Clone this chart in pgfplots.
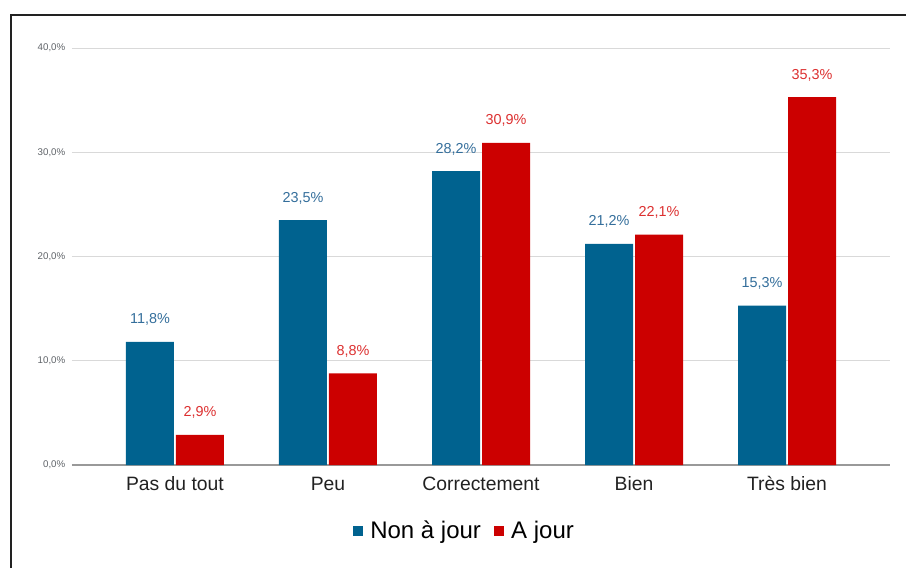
\documentclass[border=0pt]{standalone}
\usepackage{pgfplots}
\pgfplotsset{compat=1.18}
\usepackage{fontspec}
\setmainfont{Liberation Sans}

\definecolor{barblue}{RGB}{0,98,143}
\definecolor{barred}{RGB}{204,0,0}
\definecolor{lblblue}{RGB}{52,110,155}
\definecolor{lblred}{RGB}{220,48,48}
\definecolor{tickgrey}{RGB}{95,99,104}
\definecolor{gridgrey}{RGB}{217,217,217}
\definecolor{framecol}{RGB}{34,34,34}

\begin{document}
\begin{tikzpicture}
\useasboundingbox (0,0) rectangle (679.5pt,426pt);
% cadre de la capture (haut et gauche)
\draw[line width=1.5pt, framecol] (8.25pt,0) -- (8.25pt,414.75pt) -- (681pt,414.75pt);

\begin{axis}[
    at={(54pt,77.25pt)}, anchor=south west,
    scale only axis,
    width=613.5pt, height=312.75pt,
    ybar=1.5pt,
    bar width=36pt,
    xmin=-0.673, xmax=4.673,
    ymin=0, ymax=40,
    xtick={0,1,2,3,4},
    xticklabels={Pas du tout, Peu, Correctement, Bien, Très bien},
    ytick={0,10,20,30,40},
    /pgf/number format/assume math mode=true,
    yticklabel={\pgfmathprintnumber[fixed,fixed zerofill,precision=1,use comma]{\tick}\%},
    yticklabel style={font=\fontsize{7.3}{8}\selectfont, text=tickgrey, xshift=-1.5pt},
    xticklabel style={font=\fontsize{14.5}{17}\selectfont, text=black!87, yshift=-5.25pt},
    major tick length=0pt,
    axis x line*=bottom,
    axis y line*=left,
    x axis line style={color=black!40, line width=1pt},
    y axis line style={draw=none},
    ymajorgrids=true,
    grid style={gridgrey, line width=0.75pt},
    clip=false,
    nodes near coords={\pgfmathprintnumber[fixed,fixed zerofill,precision=1,use comma]{\pgfplotspointmeta}\%},
    nodes near coords style={font=\fontsize{10.8}{12}\selectfont, anchor=base, yshift=13.5pt},
    legend columns=2,
    legend style={draw=none, at={(0.4804,-0.158)}, anchor=center,
        font=\fontsize{18}{21}\selectfont,
        /tikz/every even column/.append style={column sep=8pt},
        /tikz/every odd column/.append style={column sep=3.5pt}},
    legend image code/.code={\fill[#1] (0pt,-3.6pt) rectangle (7.2pt,3.6pt);},
]

\addplot[fill=barblue, draw=none,
    every node near coord/.append style={text=lblblue}]
    coordinates {(0,11.8) (1,23.5) (2,28.2) (3,21.2) (4,15.3)};
\addlegendentry{Non à jour}

\addplot[fill=barred, draw=none,
    every node near coord/.append style={text=lblred}]
    coordinates {(0,2.9) (1,8.8) (2,30.9) (3,22.1) (4,35.3)};
\addlegendentry{A jour}

\end{axis}
\end{tikzpicture}
\end{document}
